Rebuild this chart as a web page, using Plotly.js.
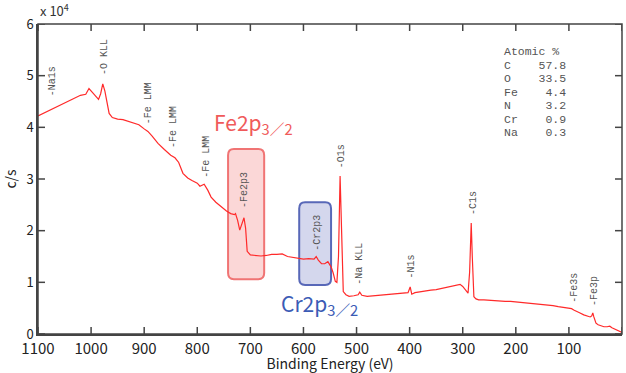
<!DOCTYPE html>
<html>
<head>
<meta charset="utf-8">
<script src="https://cdn.plot.ly/plotly-3.0.1.min.js"></script>
<style>html,body{margin:0;padding:0;background:#fff;}#chart{width:626px;height:373px;}</style>
</head>
<body>
<div id="chart"></div>
<script>
// Binding energy (eV) and intensity (c/s, in units of 10^4)
const bindingEnergy = [1100,1090,1080,1070,1060,1050,1040,1030,1020,1010,1004,998,992,986,982,978,974,970,966,960,950,940,930,920,910,900,893,885,874,862,850,842,835,827,818,810,800,795,787,780,774,765,755,745,737,730,728,724,720,716,712,709,706,700,690,680,670,660,650,640,630,620,610,600,590,580,576,572,566,560,554,548,544,540,537,534,531,528,525,520,514,505,497,494,490,480,470,460,450,440,430,420,410,403,399,396,390,380,370,360,350,340,330,320,310,305,300,294,290,287,284,282,279,275,270,260,250,240,230,220,210,200,190,180,170,160,150,140,130,120,110,100,95,90,85,80,72,65,60,57,55,53,49,45,40,34,28,23,19,15,10,5,2,0];
const countsE4 = [4.22,4.27,4.31,4.37,4.41,4.47,4.52,4.57,4.62,4.64,4.75,4.68,4.60,4.54,4.65,4.84,4.70,4.45,4.27,4.19,4.16,4.15,4.12,4.08,4.05,3.97,3.92,3.83,3.69,3.57,3.46,3.41,3.32,3.11,3.02,2.97,2.92,2.86,2.90,2.78,2.65,2.55,2.46,2.38,2.33,2.31,2.33,2.20,2.01,2.12,2.25,2.05,1.60,1.53,1.52,1.51,1.52,1.54,1.54,1.55,1.50,1.48,1.46,1.45,1.46,1.45,1.50,1.43,1.36,1.36,1.40,1.30,1.18,1.02,1.00,1.50,3.06,1.60,0.82,0.76,0.73,0.74,0.76,0.81,0.75,0.73,0.74,0.75,0.76,0.77,0.78,0.78,0.79,0.80,0.91,0.77,0.80,0.82,0.83,0.85,0.86,0.88,0.90,0.92,0.95,0.96,0.92,0.84,0.79,1.20,2.15,1.50,0.72,0.68,0.66,0.66,0.65,0.65,0.64,0.63,0.63,0.62,0.62,0.61,0.60,0.59,0.58,0.57,0.55,0.53,0.51,0.50,0.49,0.46,0.43,0.41,0.37,0.35,0.33,0.35,0.41,0.33,0.21,0.18,0.16,0.14,0.14,0.15,0.12,0.10,0.08,0.06,0.04,0.03];

// Axis tick values
const xTickValues = [1100,1000,900,800,700,600,500,400,300,200,100,0];
const yTickValues = [0,1,2,3,4,5,6];

// Peak labels
const peakNames = ['-Na1s','-O KLL','-Fe LMM','-Fe LMM','-Fe LMM','-Fe2p3','-Cr2p3','-O1s','-Na KLL','-N1s','-C1s','-Fe3s','-Fe3p'];
const peakEnergy = [1072,976,893,846,784,712,573,529,494,397,281,91,53];
const peakLabelBase = [4.56,4.97,4.02,3.56,2.98,2.40,1.57,3.17,0.91,1.04,2.26,0.56,0.50];

// Atomic % table
const tableElements = ['C','O','Fe','N','Cr','Na'];
const tablePercent = ['57.8','33.5','4.4','3.2','0.9','0.3'];

// Highlight regions (eV range, intensity range)
const feRegion = {x0: 742, x1: 674, y0: 1.06, y1: 3.58};
const crRegion = {x0: 608, x1: 548, y0: 0.95, y1: 2.55};

function roundedRect(r, rx, ry) {
  const xa = Math.max(r.x0, r.x1), xb = Math.min(r.x0, r.x1);
  return `M ${xa - rx} ${r.y0} L ${xb + rx} ${r.y0} Q ${xb} ${r.y0} ${xb} ${r.y0 + ry} ` +
         `L ${xb} ${r.y1 - ry} Q ${xb} ${r.y1} ${xb + rx} ${r.y1} ` +
         `L ${xa - rx} ${r.y1} Q ${xa} ${r.y1} ${xa} ${r.y1 - ry} ` +
         `L ${xa} ${r.y0 + ry} Q ${xa} ${r.y0} ${xa - rx} ${r.y0} Z`;
}

const jpFont = '"Noto Sans CJK JP", "Noto Sans", sans-serif';
const mono = '"Liberation Mono", "DejaVu Sans Mono", monospace';
const axisColor = '#444';

const annotations = [];
peakNames.forEach((t, i) => {
  annotations.push({x: peakEnergy[i], y: peakLabelBase[i], xref: 'x', yref: 'y', text: t,
    textangle: -90, showarrow: false, xanchor: 'center', yanchor: 'bottom',
    font: {family: mono, size: 10, color: '#555'}});
});
const tableX = 226, rowY0 = 5.46, rowStep = 0.26;
annotations.push({x: tableX, y: rowY0, xref: 'x', yref: 'y', text: 'Atomic&nbsp;%', showarrow: false,
  xanchor: 'left', yanchor: 'middle', font: {family: mono, size: 11.5, color: '#555'}});
tableElements.forEach((el, i) => {
  const line = el + ' '.repeat(9 - el.length - tablePercent[i].length) + tablePercent[i];
  annotations.push({x: tableX, xref: 'x', y: rowY0 - rowStep * (i + 1), yref: 'y',
    text: line.replace(/ /g, '&nbsp;'), showarrow: false, xanchor: 'left', yanchor: 'middle',
    font: {family: mono, size: 11.5, color: '#555'}});
});
annotations.push({x: 772, y: 4.08, xref: 'x', yref: 'y', text: 'Fe2p<sub>3／2</sub>', showarrow: false,
  xanchor: 'left', yanchor: 'middle', font: {family: jpFont, size: 21, color: '#f05a5a'}});
annotations.push({x: 646, y: 0.58, xref: 'x', yref: 'y', text: 'Cr2p<sub>3／2</sub>', showarrow: false,
  xanchor: 'left', yanchor: 'middle', font: {family: jpFont, size: 21, color: '#3b5bb5'}});
annotations.push({x: 0, y: 1, xref: 'paper', yref: 'paper', text: 'x 10<sup>4</sup>', showarrow: false,
  xanchor: 'left', yanchor: 'bottom', yshift: 2, font: {family: jpFont, size: 13, color: '#333'}});

const shapes = [
  {type: 'rect', xref: 'paper', yref: 'paper', x0: 0, x1: 1, y0: 0, y1: 1,
    line: {color: axisColor, width: 1.5}, layer: 'above'},
  {type: 'path', xref: 'x', yref: 'y', path: roundedRect(feRegion, 11, 0.12),
    fillcolor: 'rgba(240,110,110,0.28)', line: {color: '#f07474', width: 2}, layer: 'below'},
  {type: 'path', xref: 'x', yref: 'y', path: roundedRect(crRegion, 11, 0.12),
    fillcolor: 'rgba(120,130,200,0.32)', line: {color: '#5868b8', width: 2}, layer: 'below'}
];

// Inside tick marks on all four sides, drawn as a line trace built from the tick values
const tickLen = 7;
const xMax = xTickValues[0], xMin = xTickValues[xTickValues.length - 1];
const yMax = yTickValues[yTickValues.length - 1];
const tyLen = tickLen / (373 - 24 - 39) * yMax, txLen = tickLen / (626 - 38 - 4) * (xMax - xMin);
const tickX = [], tickY = [];
xTickValues.forEach(v => {
  tickX.push(v, v, null, v, v, null);
  tickY.push(0, tyLen, null, yMax, yMax - tyLen, null);
});
yTickValues.forEach(v => {
  tickX.push(xMax, xMax - txLen, null, xMin, xMin + txLen, null);
  tickY.push(v, v, null, v, v, null);
});

const trace = {x: bindingEnergy, y: countsE4, type: 'scatter', mode: 'lines',
  line: {color: '#ff2a2a', width: 1.2}, hoverinfo: 'skip'};
const tickTrace = {x: tickX, y: tickY, type: 'scatter', mode: 'lines', connectgaps: false,
  line: {color: axisColor, width: 1.5}, hoverinfo: 'skip', cliponaxis: false};

const layout = {
  width: 626, height: 373,
  margin: {l: 38, r: 4, t: 24, b: 39},
  paper_bgcolor: '#fff', plot_bgcolor: '#fff',
  showlegend: false,
  xaxis: {range: [1100, 0], tickvals: xTickValues, ticks: '', showgrid: false, zeroline: false,
    showline: true, linecolor: axisColor, linewidth: 1.5,
    tickfont: {family: jpFont, size: 15, color: '#222'},
    title: {text: 'Binding Energy (eV)', font: {family: jpFont, size: 14, color: '#222'}, standoff: 4}},
  yaxis: {range: [0, 6], tickvals: yTickValues, ticks: '', showgrid: false, zeroline: false,
    showline: true, linecolor: axisColor, linewidth: 1.5,
    tickfont: {family: jpFont, size: 13, color: '#222'},
    title: {text: 'c/s', font: {family: jpFont, size: 14, color: '#222'}, standoff: 8}},
  shapes: shapes,
  annotations: annotations
};

Plotly.newPlot('chart', [trace, tickTrace], layout, {displayModeBar: false});
</script>
</body>
</html>
